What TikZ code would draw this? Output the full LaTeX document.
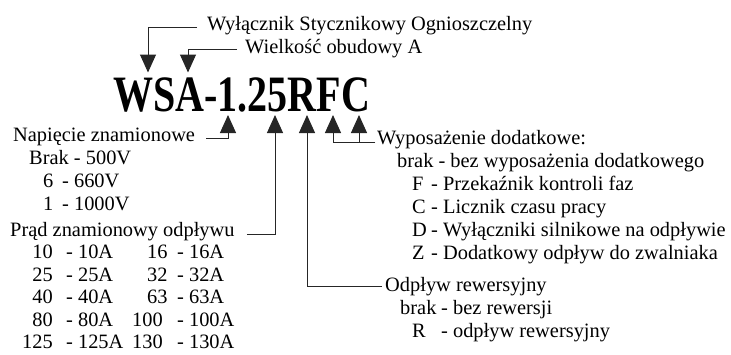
\documentclass[tikz,border=0pt]{standalone}
\usepackage{fontspec}
\setmainfont{Liberation Serif}
\usetikzlibrary{arrows.meta}
\begin{document}
\begin{tikzpicture}[x=1pt,y=-1pt,
  lbl/.style={anchor=base west,inner sep=0pt,font=\fontsize{20.4}{20.4}\selectfont},
  lble/.style={anchor=base east,inner sep=0pt,font=\fontsize{20.4}{20.4}\selectfont},
  conn/.style={line width=1pt,black!85},
  arr/.style={conn,-{Triangle[width=16pt,length=18pt]}}]
\useasboundingbox (0,0) rectangle (731,354);
% title
\node[anchor=base west,inner sep=0pt,font=\fontsize{51}{51}\selectfont\bfseries] (title) at (113,111) {\scalebox{0.785}[1]{WSA-1.25RFC}};
% arrow tips
\coordinate (tipW) at (148,72.5);
\coordinate (tipA) at (188,72.5);
\coordinate (tipV) at (228,115);
\coordinate (tipI) at (275,115);
\coordinate (tipR) at (307,115);
\coordinate (tipF) at (333,115);
\coordinate (tipC) at (359,115);
% top labels
\node[lbl] (n1) at (207,30) {Wyłącznik Stycznikowy Ognioszczelny};
\node[lbl] (n2) at (245,53) {Wielkość obudowy A};
\draw[arr] ([xshift=-10pt,yshift=3pt]n1.base west) -| (tipW);
\draw[arr] ([xshift=-8pt,yshift=4pt]n2.base west) -| (tipA);
% voltage
\node[lbl] (nV) at (13,141) {Napięcie znamionowe};
\node[lbl] (v1) at (29,164) {Brak - 500V};
\node[lbl] (v2a) at (43,187) {6};
\node[lbl] (v2b) at (62,187) {- 660V};
\node[lbl] (v3a) at (43,210) {1};
\node[lbl] (v3b) at (62,210) {- 1000V};
\draw[arr] ([xshift=11pt,yshift=3pt]nV.base east) -| (tipV);
% current
\node[lbl] (nI) at (10,236) {Prąd znamionowy odpływu};
\draw[arr] ([xshift=12pt,yshift=2pt]nI.base east) -| (tipI);
\node[lble] (i1a) at (53,258.5) {10};
\node[lbl] (i1b) at (66,258.5) {- 10A};
\node[lbl] (i1c) at (147,258.5) {16};
\node[lbl] (i1d) at (177,258.5) {- 16A};
\node[lble] (i2a) at (53,281) {25};
\node[lbl] (i2b) at (66,281) {- 25A};
\node[lbl] (i2c) at (147,281) {32};
\node[lbl] (i2d) at (177,281) {- 32A};
\node[lble] (i3a) at (53,303.5) {40};
\node[lbl] (i3b) at (66,303.5) {- 40A};
\node[lbl] (i3c) at (147,303.5) {63};
\node[lbl] (i3d) at (177,303.5) {- 63A};
\node[lble] (i4a) at (53,326) {80};
\node[lbl] (i4b) at (66,326) {- 80A};
\node[lbl] (i4c) at (132,326) {100};
\node[lbl] (i4d) at (177,326) {- 100A};
\node[lble] (i5a) at (53,348.5) {125};
\node[lbl] (i5b) at (66,348.5) {- 125A};
\node[lbl] (i5c) at (132,348.5) {130};
\node[lbl] (i5d) at (177,348.5) {- 130A};
% equipment
\node[lbl] (nE) at (377,144) {Wyposażenie dodatkowe:};
\draw[arr] ([xshift=-2pt,yshift=2pt]nE.base west) -| (tipF);
\draw[arr] ([xshift=-2pt,yshift=2pt]nE.base west) -| (tipC);
\node[lbl] (e0) at (397,167) {brak - bez wyposażenia dodatkowego};
\node[lbl] (e1a) at (412,190) {F};
\node[lbl] (e1b) at (431,190) {- Przekaźnik kontroli faz};
\node[lbl] (e2a) at (412,213) {C};
\node[lbl] (e2b) at (431,213) {- Licznik czasu pracy};
\node[lbl] (e3a) at (412,236) {D};
\node[lbl] (e3b) at (431,236) {- Wyłączniki silnikowe na odpływie};
\node[lbl] (e4a) at (412,259) {Z};
\node[lbl] (e4b) at (431,259) {- Dodatkowy odpływ do zwalniaka};
% reverse
\node[lbl] (nR) at (385,291) {Odpływ rewersyjny};
\draw[arr] ([xshift=-3pt,yshift=5pt]nR.base west) -| (tipR);
\node[lbl] (r1a) at (400,314) {brak};
\node[lbl] (r1b) at (441,314) {- bez rewersji};
\node[lbl] (r2a) at (412,337) {R};
\node[lbl] (r2b) at (441,337) {- odpływ rewersyjny};
\end{tikzpicture}
\end{document}
